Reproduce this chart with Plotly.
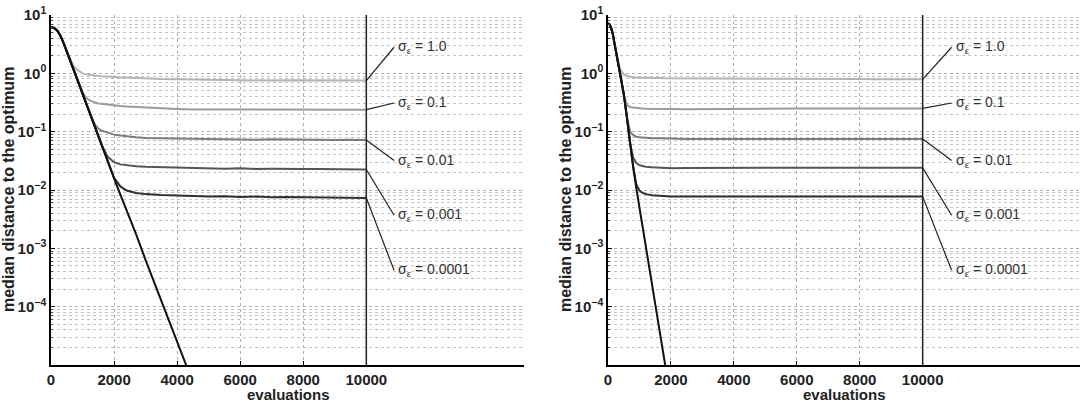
import math
import plotly.graph_objects as go

# ---------------- data ----------------
X_LEFT = [0, 100, 200, 300, 400, 500, 600, 700, 800, 900, 1000, 1100, 1200, 1300, 1400,
          1500, 1600, 1800, 2000, 2200, 2400, 2700, 3000, 3500, 4000, 4500, 5000, 5500,
          6000, 6500, 7000, 7500, 8000, 8500, 9000, 9500, 10000]

L_NOISELESS = [6.2, 6.0, 5.4, 4.4, 3.3, 2.4, 1.74, 1.23, 0.89, 0.63, 0.45, 0.32, 0.23, 0.166,
               0.117, 0.083, 0.060, 0.032, 0.0158, 0.0083, 0.0045, 0.00174, 6.3e-4, 1.26e-4,
               2.5e-5, 5e-6]
L_S1 = [6.2, 6.0, 5.4, 4.4, 3.3, 2.4, 1.78, 1.38, 1.18, 1.07, 1.0, 0.96, 0.94, 0.93, 0.91,
        0.9, 0.89, 0.88, 0.86, 0.85, 0.85, 0.83, 0.82, 0.8, 0.79, 0.78, 0.77, 0.77,
        0.76, 0.76, 0.75, 0.76, 0.76, 0.75, 0.76, 0.75, 0.75]
L_S01 = [6.2, 6.0, 5.4, 4.4, 3.3, 2.4, 1.74, 1.23, 0.89, 0.64, 0.48, 0.39, 0.35, 0.33, 0.315,
         0.305, 0.3, 0.29, 0.28, 0.275, 0.27, 0.265, 0.255, 0.25, 0.245, 0.24, 0.24, 0.238,
         0.24, 0.235, 0.237, 0.24, 0.235, 0.238, 0.236, 0.24, 0.238]
L_S001 = [6.2, 6.0, 5.4, 4.4, 3.3, 2.4, 1.74, 1.23, 0.89, 0.63, 0.45, 0.32, 0.23, 0.17, 0.13,
          0.113, 0.104, 0.095, 0.089, 0.086, 0.083, 0.08, 0.078, 0.077, 0.076, 0.075, 0.074,
          0.075, 0.074, 0.073, 0.074, 0.073, 0.072, 0.073, 0.072, 0.073, 0.072]
L_S0001 = [6.2, 6.0, 5.4, 4.4, 3.3, 2.4, 1.74, 1.23, 0.89, 0.63, 0.45, 0.32, 0.23, 0.166,
           0.117, 0.083, 0.060, 0.037, 0.03, 0.0275, 0.0265, 0.0255, 0.025, 0.0245, 0.024,
           0.0238, 0.0235, 0.0232, 0.0235, 0.023, 0.0232, 0.0228, 0.023, 0.0228, 0.0226,
           0.0228, 0.0225]
L_S00001 = [6.2, 6.0, 5.4, 4.4, 3.3, 2.4, 1.74, 1.23, 0.89, 0.63, 0.45, 0.32, 0.23, 0.166,
            0.117, 0.083, 0.060, 0.032, 0.0162, 0.0115, 0.0098, 0.0089, 0.0085, 0.0082, 0.008,
            0.0078, 0.0077, 0.0078, 0.0076, 0.0077, 0.0075, 0.0076, 0.0075, 0.0074, 0.0075,
            0.0074, 0.0073]

X_RIGHT = [0, 50, 100, 150, 200, 250, 300, 350, 400, 450, 500, 600, 700, 800, 900, 1000,
           1100, 1200, 1400, 1600, 1800, 2000, 2500, 3000, 3500, 4000, 4500, 5000, 5500,
           6000, 6500, 7000, 7500, 8000, 8500, 9000, 9500, 10000]

R_NOISELESS = [7.2, 6.9, 6.0, 4.8, 3.4, 2.4, 1.78, 1.32, 0.95, 0.66, 0.45, 0.178, 0.063,
               0.025, 0.0107, 0.005, 0.0025, 0.00126, 2.8e-4, 5.6e-5, 1.12e-5, 2.5e-6]
R_S1 = [7.2, 6.9, 6.0, 4.8, 3.4, 2.4, 1.8, 1.4, 1.15, 1.02, 0.96, 0.9, 0.87, 0.86, 0.85,
        0.85, 0.84, 0.84, 0.83, 0.83, 0.82, 0.82, 0.82, 0.81, 0.82, 0.81, 0.8, 0.81, 0.8,
        0.8, 0.8, 0.81, 0.8, 0.8, 0.79, 0.8, 0.79, 0.79]
R_S01 = [7.2, 6.9, 6.0, 4.8, 3.4, 2.4, 1.78, 1.32, 0.95, 0.62, 0.42, 0.29, 0.265, 0.26,
         0.255, 0.25, 0.25, 0.248, 0.246, 0.245, 0.245, 0.244, 0.243, 0.245, 0.244, 0.246,
         0.248, 0.247, 0.248, 0.25, 0.249, 0.25, 0.25, 0.249, 0.25, 0.251, 0.25, 0.25]
R_S001 = [7.2, 6.9, 6.0, 4.8, 3.4, 2.4, 1.78, 1.32, 0.95, 0.66, 0.45, 0.178, 0.1, 0.087,
          0.082, 0.08, 0.079, 0.078, 0.077, 0.077, 0.076, 0.076, 0.075, 0.075, 0.076, 0.075,
          0.075, 0.074, 0.075, 0.075, 0.074, 0.075, 0.075, 0.074, 0.075, 0.075, 0.074, 0.075]
R_S0001 = [7.2, 6.9, 6.0, 4.8, 3.4, 2.4, 1.78, 1.32, 0.95, 0.66, 0.45, 0.178, 0.063, 0.036,
           0.029, 0.0265, 0.0255, 0.025, 0.0245, 0.024, 0.0238, 0.0237, 0.0238, 0.0239,
           0.0237, 0.0239, 0.024, 0.0238, 0.024, 0.0239, 0.024, 0.0241, 0.024, 0.0239, 0.024,
           0.0241, 0.024, 0.024]
R_S00001 = [7.2, 6.9, 6.0, 4.8, 3.4, 2.4, 1.78, 1.32, 0.95, 0.66, 0.45, 0.178, 0.063, 0.025,
            0.0125, 0.0098, 0.0089, 0.0085, 0.0081, 0.0079, 0.0078, 0.0077, 0.0077, 0.0078,
            0.0077, 0.0077, 0.0076, 0.0077, 0.0077, 0.0078, 0.0077, 0.0077, 0.0076, 0.0077,
            0.0077, 0.0077, 0.0076, 0.0077]

LABELS = ["σ<sub>ε</sub> = 1.0", "σ<sub>ε</sub> = 0.1", "σ<sub>ε</sub> = 0.01",
          "σ<sub>ε</sub> = 0.001", "σ<sub>ε</sub> = 0.0001"]
LABEL_Y = [2.8, 0.31, 0.032, 0.0037, 0.00042]
LEFT_LABEL_X = 10950
RIGHT_LABEL_X = 11000
LEADER_END_X_LEFT = 10880
LEADER_END_X_RIGHT = 10920
MARKER_X = 10000

Y_TICKVALS = [1e-4, 1e-3, 1e-2, 1e-1, 1e0, 1e1]
Y_TICKTEXT = ["10<sup>−4</sup>", "10<sup>−3</sup>", "10<sup>−2</sup>",
              "10<sup>−1</sup>", "10<sup>0</sup>", "10<sup>1</sup>"]
X_TICKVALS = [0, 2000, 4000, 6000, 8000, 10000]
X_TICKTEXT = ["0", "2000", "4000", "6000", "8000", "10000"]

COLORS = ["#b4b4b4", "#9a9a9a", "#7c7c7c", "#555555", "#303030"]

# ---------------- figure ----------------
fig = go.Figure()
FONT = "Liberation Sans, Arial, sans-serif"

panels = [
    ("x", "y", X_LEFT, L_NOISELESS, [L_S1, L_S01, L_S001, L_S0001, L_S00001],
     LEFT_LABEL_X, LEADER_END_X_LEFT),
    ("x2", "y2", X_RIGHT, R_NOISELESS, [R_S1, R_S01, R_S001, R_S0001, R_S00001],
     RIGHT_LABEL_X, LEADER_END_X_RIGHT),
]

for xa, ya, X, noiseless, series, lab_x, lead_x in panels:
    for ys, col in zip(series, COLORS):
        fig.add_trace(go.Scatter(x=X, y=ys, mode="lines", xaxis=xa, yaxis=ya,
                                 line=dict(color=col, width=2), showlegend=False,
                                 hoverinfo="skip"))
    fig.add_trace(go.Scatter(x=X[:len(noiseless)], y=noiseless, mode="lines", xaxis=xa,
                             yaxis=ya, line=dict(color="#111111", width=2),
                             showlegend=False, hoverinfo="skip"))
    # leader lines and labels
    for ys, ly, txt in zip(series, LABEL_Y, LABELS):
        fig.add_trace(go.Scatter(x=[MARKER_X, lead_x], y=[ys[-1], ly], mode="lines",
                                 xaxis=xa, yaxis=ya, line=dict(color="#222222", width=1.2),
                                 showlegend=False, hoverinfo="skip"))
        fig.add_annotation(x=lab_x, y=math.log10(ly), xref=xa, yref=ya, text=txt,
                           showarrow=False, xanchor="left", yanchor="middle",
                           font=dict(family=FONT, size=14, color="#333333"))
    fig.add_shape(type="line", x0=MARKER_X, x1=MARKER_X, y0=0, y1=1, xref=xa,
                  yref=f"{ya} domain", line=dict(color="#222222", width=1.5))

W, H = 1084, 402
ML, MR, MT, MB = 51, 4, 15, 37
PW = W - ML - MR

axis_common = dict(showline=True, linecolor="black", linewidth=1.5, mirror=False,
                   ticks="inside", ticklen=4, tickcolor="black", zeroline=False,
                   showgrid=True, gridcolor="#b0b0b0", griddash="dot", gridwidth=1,
                   tickfont=dict(family=FONT, size=15, color="#222222", weight="bold"))

xcommon = dict(axis_common, range=[0, 15000], tickmode="array", tickvals=X_TICKVALS,
               ticktext=X_TICKTEXT)
ycommon = dict(axis_common, type="log", range=[-5, 1], tickmode="array",
               tickvals=Y_TICKVALS, ticktext=Y_TICKTEXT,
               minor=dict(dtick="D1", ticks="inside", ticklen=2, tickcolor="#444444",
                          showgrid=True, gridcolor="#c4c4c4", griddash="dot", gridwidth=1))

fig.update_layout(
    width=W, height=H, margin=dict(l=ML, r=MR, t=MT, b=MB),
    plot_bgcolor="white", paper_bgcolor="white",
    xaxis=dict(xcommon, domain=[0, 473 / PW], anchor="y"),
    yaxis=dict(ycommon, domain=[0, 1], anchor="x"),
    xaxis2=dict(xcommon, domain=[557 / PW, 1], anchor="y2"),
    yaxis2=dict(ycommon, domain=[0, 1], anchor="x2"),
)

for px, tx in [(-43 / PW, 237 / PW), (514 / PW, 793 / PW)]:
    fig.add_annotation(x=px, y=0.5, xref="paper", yref="paper", textangle=-90,
                       text="median distance to the optimum", showarrow=False,
                       xanchor="center", yanchor="middle",
                       font=dict(family=FONT, size=16, color="#222222", weight="bold"))
    fig.add_annotation(x=tx, y=-30 / 350, xref="paper", yref="paper", text="evaluations",
                       showarrow=False, xanchor="center", yanchor="middle",
                       font=dict(family=FONT, size=15, color="#222222", weight="bold"))

fig.write_html("out.html")
